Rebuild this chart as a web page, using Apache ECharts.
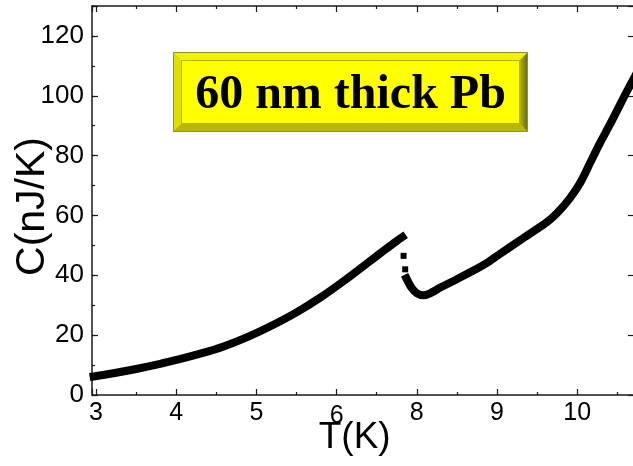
<!DOCTYPE html>
<html>
<head>
<meta charset="utf-8">
<script src="https://cdn.jsdelivr.net/npm/echarts@6/dist/echarts.min.js"></script>
<style>
  html, body { margin: 0; padding: 0; background: #fff; }
  #chart { width: 633px; height: 466px; }
</style>
</head>
<body>
<div id="chart"></div>
<script>
// Heat capacity of a 60 nm Pb film, normal branch below and above the jump
const tempBelow = [2.97, 3.2, 3.5, 3.8, 4.0, 4.3, 4.6, 4.9, 5.2, 5.5, 5.8, 6.1, 6.4, 6.6, 6.75, 6.82];
const heatBelow = [6.2, 7.2, 8.7, 10.4, 11.7, 13.8, 16.3, 19.5, 23.3, 27.6, 32.6, 38.3, 44.4, 48.5, 51.5, 52.8];

// isolated points inside the jump
const tempJump = [6.835, 6.855];
const heatJump = [46.5, 42.0];

const tempAbove = [6.87, 6.93, 7.0, 7.08, 7.15, 7.3, 7.5, 7.7, 7.9, 8.04, 8.32, 8.62, 8.75, 8.91, 9.04, 9.16, 9.28, 9.41, 9.53, 9.62, 9.72];
const heatAbove = [39.0, 36.0, 34.0, 33.3, 33.8, 36.0, 38.7, 41.5, 44.6, 47.2, 52.3, 57.7, 60.8, 65.8, 71.0, 77.5, 84.0, 90.5, 96.8, 101.5, 106.5];

// tick positions on the temperature axis and the text printed under them
const tempTicks = [3, 4, 5, 6, 7, 8, 9];
const tempTickLabels = ['3', '4', '5', '{low|6}', '8', '9', '10'];

const heatTicks = [0, 20, 40, 60, 80, 100, 120];

const boxText = '60 nm thick Pb';

const pairs = (xs, ys) => xs.map((x, i) => [x, ys[i]]);

const axisColor = '#1a1a1a';
const labelFont = 'Liberation Sans, Arial, sans-serif';

const chart = echarts.init(document.getElementById('chart'), null, { renderer: 'canvas' });

const xBase = {
  type: 'value',
  min: 2.95,
  max: 10,
  splitNumber: 7,
  splitLine: { show: false },
  axisLine: { onZero: false, lineStyle: { color: axisColor, width: 1.5 } },
  axisTick: { inside: true, length: 6, lineStyle: { color: axisColor, width: 1.2 } },
  minorTick: { show: true, splitNumber: 2, length: 3, lineStyle: { color: axisColor, width: 1.2 } },
  minorSplitLine: { show: false }
};

const yBase = {
  type: 'value',
  min: 0,
  max: 130,
  interval: 20,
  splitLine: { show: false },
  axisLine: { onZero: false, lineStyle: { color: axisColor, width: 1.5 } },
  axisTick: { inside: true, length: 6, lineStyle: { color: axisColor, width: 1.2 } }
};

const option = {
  backgroundColor: '#ffffff',
  animation: false,
  grid: { left: 92, top: 6, right: -24.4, bottom: 71, containLabel: false, outerBoundsMode: 'none' },
  xAxis: [
    Object.assign({}, xBase, {
      position: 'bottom',
      name: 'T(K)',
      nameLocation: 'middle',
      nameGap: 24,
      nameMoveOverlap: false,
      nameTextStyle: { fontFamily: labelFont, fontSize: 37, color: '#000', padding: [0, 40, 0, 0] },
      axisLabel: {
        margin: 6,
        fontFamily: labelFont,
        fontSize: 25,
        color: '#000',
        rich: { low: { fontFamily: labelFont, fontSize: 25, color: '#000', padding: [3, 0, 0, 0] } },
        formatter: v => {
          const i = tempTicks.indexOf(Math.round(v * 1000) / 1000);
          return i >= 0 ? tempTickLabels[i] : '';
        }
      }
    }),
    Object.assign({}, xBase, {
      position: 'top',
      axisLabel: { show: false }
    })
  ],
  yAxis: [
    Object.assign({}, yBase, {
      position: 'left',
      name: 'C(nJ/K)',
      nameLocation: 'middle',
      nameRotate: 90,
      nameGap: 39,
      nameMoveOverlap: false,
      nameTextStyle: { fontFamily: labelFont, fontSize: 41, color: '#000', padding: [0, 12, 0, 0] },
      axisLabel: {
        margin: 8,
        fontFamily: labelFont,
        fontSize: 26,
        color: '#000',
        formatter: v => (heatTicks.indexOf(v) >= 0 ? String(v) : '')
      }
    }),
    Object.assign({}, yBase, {
      position: 'left',
      interval: 10,
      axisLine: { show: false },
      axisTick: { inside: true, length: 3, lineStyle: { color: axisColor, width: 1.2 } },
      axisLabel: { show: false }
    }),
    Object.assign({}, yBase, {
      position: 'right',
      offset: -23.4,
      axisLine: { show: false },
      axisLabel: { show: false }
    })
  ],
  series: [
    {
      type: 'line',
      xAxisIndex: 0,
      yAxisIndex: 0,
      data: pairs(tempBelow, heatBelow),
      symbol: 'none',
      smooth: 0.3,
      lineStyle: { color: '#000', width: 8, cap: 'square', join: 'round' },
      clip: true
    },
    {
      type: 'scatter',
      xAxisIndex: 0,
      yAxisIndex: 0,
      data: pairs(tempJump, heatJump),
      symbol: 'rect',
      symbolSize: 6,
      itemStyle: { color: '#000', opacity: 1 }
    },
    {
      type: 'line',
      xAxisIndex: 0,
      yAxisIndex: 0,
      data: pairs(tempAbove, heatAbove),
      symbol: 'none',
      smooth: 0.3,
      lineStyle: { color: '#000', width: 8, cap: 'square', join: 'round' },
      clip: true
    }
  ],
  graphic: [
    {
      type: 'group',
      left: 173,
      top: 52,
      children: [
        // outer plate
        { type: 'rect', shape: { x: 0, y: 0, width: 354, height: 79 },
          style: { fill: '#c9c900', stroke: '#8f8f3a', lineWidth: 1 } },
        // lit top bevel
        { type: 'polygon', shape: { points: [[0.5, 0.5], [353.5, 0.5], [346, 8], [8, 8]] },
          style: { fill: '#f2f200' } },
        // lit left bevel
        { type: 'polygon', shape: { points: [[0.5, 0.5], [8, 8], [8, 71], [0.5, 78.5]] },
          style: { fill: '#e0e000' } },
        // shaded right bevel
        { type: 'polygon', shape: { points: [[353.5, 0.5], [353.5, 78.5], [346, 71], [346, 8]] },
          style: { fill: new echarts.graphic.LinearGradient(0, 0, 1, 0, [
            { offset: 0, color: '#b5b500' }, { offset: 1, color: '#6d6d1e' }]) } },
        // shaded bottom bevel
        { type: 'polygon', shape: { points: [[0.5, 78.5], [8, 71], [346, 71], [353.5, 78.5]] },
          style: { fill: '#b8b800' } },
        // face
        { type: 'rect', shape: { x: 8, y: 8, width: 338, height: 63 },
          style: { fill: '#ffff00', stroke: '#b0b000', lineWidth: 1 } },
        { type: 'text', x: 177, y: 43,
          style: { text: boxText, fill: '#000', font: 'bold 48px "Liberation Serif", "Times New Roman", serif',
                   align: 'center', verticalAlign: 'middle' } }
      ]
    }
  ]
};

chart.setOption(option);
</script>
</body>
</html>
